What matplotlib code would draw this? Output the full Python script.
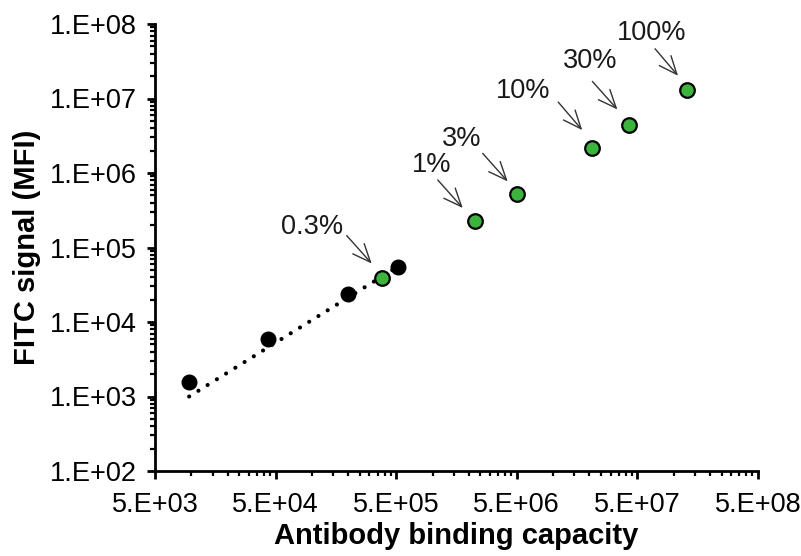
import numpy as np
import matplotlib
matplotlib.use('Agg')
import matplotlib.pyplot as plt
from matplotlib.ticker import FixedLocator, NullFormatter
from matplotlib.transforms import offset_copy

plt.rcParams['font.family'] = ['Liberation Sans', 'DejaVu Sans']

# calibration beads (black) and diluted samples (green)
bead_abc = [9.6e3, 4.3e4, 1.98e5, 5.2e5]
bead_mfi = [1.57e3, 6.0e3, 2.41e4, 5.5e4]

sample_labels = ['0.3%', '1%', '3%', '10%', '30%', '100%']
sample_abc = [3.79e5, 2.24e6, 4.99e6, 2.11e7, 4.29e7, 1.29e8]
sample_mfi = [3.95e4, 2.27e5, 5.16e5, 2.16e6, 4.35e6, 1.31e7]

# power trendline as drawn in the original
trend_abc = [9.6e3, 4.9e5]
trend_mfi = [1.0e3, 5.26e4]

xticks = [5e3, 5e4, 5e5, 5e6, 5e7, 5e8]
xtick_labels = ['5.E+03', '5.E+04', '5.E+05', '5.E+06', '5.E+07', '5.E+08']
yticks = [1e2, 1e3, 1e4, 1e5, 1e6, 1e7, 1e8]
ytick_labels = ['1.E+02', '1.E+03', '1.E+04', '1.E+05', '1.E+06', '1.E+07', '1.E+08']

# label offsets (pixels from the point): text centre, arrow tail, arrow tip
text_off = [(-70, 51), (-43, 56), (-55, 55), (-69, 57), (-39, 64), (-35, 57)]
tail_off = [(-35, 42), (-37, 41), (-34, 41), (-34, 46), (-37, 44), (-32, 41)]
tip_off = [(-10, 14), (-12, 13), (-9, 13), (-10, 18), (-12, 16), (-9, 14)]

fig = plt.figure(figsize=(8.01, 5.56), dpi=100)
ax = fig.add_axes([155 / 801, 85 / 556, 603 / 801, 447 / 556])
ax.set_xscale('log')
ax.set_yscale('log')

ax.plot(trend_abc, trend_mfi, color='black', linewidth=3.0,
        linestyle=(0, (0.01, 2.6)), dash_capstyle='round', zorder=2)
ax.plot(bead_abc, bead_mfi, 'o', color='black', markersize=10.5, zorder=3)
ax.plot(sample_abc, sample_mfi, 'o', markerfacecolor='#3cb33c',
        markeredgecolor='black', markeredgewidth=1.6, markersize=10.5, zorder=4)

for i, lab in enumerate(sample_labels):
    pt = (sample_abc[i], sample_mfi[i])
    ax.annotate(lab, xy=pt, xytext=text_off[i], textcoords='offset pixels',
                ha='center', va='center', fontsize=19.5, color='#1a1a1a')
    t_tip = offset_copy(ax.transData, fig=fig, x=tip_off[i][0], y=tip_off[i][1], units='dots')
    t_tail = offset_copy(ax.transData, fig=fig, x=tail_off[i][0], y=tail_off[i][1], units='dots')
    ax.annotate('', xy=pt, xycoords=t_tip, xytext=pt, textcoords=t_tail,
                arrowprops=dict(arrowstyle='->,head_length=1.3,head_width=0.55',
                                color='#333333', lw=1.0, shrinkA=0, shrinkB=0))

ax.set_xlim(5e3, 5e8)
ax.set_ylim(1e2, 1e8)
ax.xaxis.set_major_locator(FixedLocator(xticks))
ax.set_xticklabels(xtick_labels)
minor_x = [5e3 * 10 ** d * k for d in range(5) for k in range(2, 10)]
ax.xaxis.set_minor_locator(FixedLocator(minor_x))
ax.xaxis.set_minor_formatter(NullFormatter())
ax.yaxis.set_major_locator(FixedLocator(yticks))
ax.set_yticklabels(ytick_labels)
minor_y = [10 ** d * k for d in range(2, 8) for k in range(2, 10)]
ax.yaxis.set_minor_locator(FixedLocator(minor_y))
ax.yaxis.set_minor_formatter(NullFormatter())

for side in ['top', 'right']:
    ax.spines[side].set_visible(False)
for side in ['left', 'bottom']:
    ax.spines[side].set_linewidth(2.0)
ax.tick_params(which='major', direction='out', length=6, width=2.0,
               labelsize=19.5, colors='black')
ax.tick_params(axis='x', which='major', pad=9)
ax.tick_params(axis='y', which='major', pad=7)
ax.tick_params(which='minor', direction='out', length=3.5, width=1.6)

ax.set_xlabel('Antibody binding capacity', fontsize=21, fontweight='bold', labelpad=3)
ax.set_ylabel('FITC signal (MFI)', fontsize=21, fontweight='bold', labelpad=6)

fig.savefig('out.png', dpi=100)
